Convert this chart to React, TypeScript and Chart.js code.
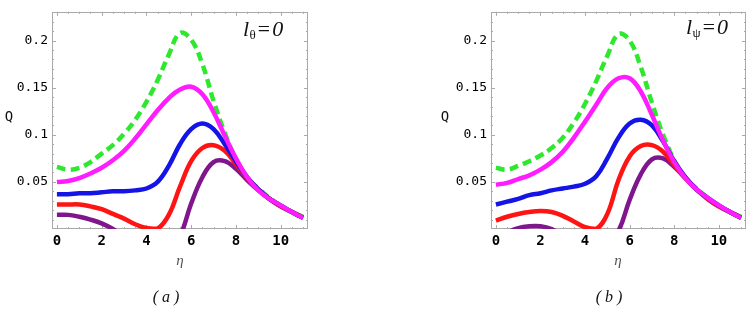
import React, { useEffect, useRef } from "react";
import { Chart, registerables } from "chart.js";

Chart.register(...registerables);

// ---------- data ----------
const ETA = [0, 0.5, 1, 1.5, 2, 2.5, 3, 3.5, 4, 4.5, 5, 5.5, 6, 6.5, 7, 7.5, 8, 8.5, 9, 9.5, 10, 10.5, 11];

const X_TICKS = [0, 2, 4, 6, 8, 10];
const Y_TICKS = [0.05, 0.1, 0.15, 0.2];

// panel (a)  l_theta = 0
const A_GREEN = [0.066, 0.063, 0.065, 0.071, 0.08, 0.089, 0.101, 0.116, 0.135, 0.158, 0.185, 0.208, 0.201, 0.175, 0.136, 0.102, 0.074, 0.055, 0.043, 0.033, 0.025, 0.018, 0.013];
const A_MAGENTA = [0.05, 0.051, 0.054, 0.059, 0.065, 0.073, 0.083, 0.096, 0.111, 0.126, 0.139, 0.148, 0.151, 0.143, 0.124, 0.099, 0.075, 0.055, 0.041, 0.032, 0.025, 0.018, 0.012];
const A_BLUE = [0.037, 0.037, 0.038, 0.038, 0.039, 0.04, 0.04, 0.041, 0.043, 0.05, 0.067, 0.09, 0.106, 0.112, 0.106, 0.09, 0.072, 0.055, 0.042, 0.032, 0.025, 0.018, 0.012];
const A_RED = [0.026, 0.026, 0.026, 0.024, 0.021, 0.016, 0.011, 0.005, 0.001, 0.0005, 0.015, 0.045, 0.072, 0.086, 0.089, 0.083, 0.069, 0.054, 0.042, 0.032, 0.024, 0.018, 0.012];
const A_PURPLE = [0.015, 0.015, 0.013, 0.01, 0.006, 0.0, -0.008, -0.016, -0.022, -0.026, -0.026, -0.008, 0.027, 0.055, 0.071, 0.072, 0.064, 0.052, 0.041, 0.032, 0.024, 0.018, 0.012];

// panel (b)  l_psi = 0
const B_GREEN = [0.065, 0.063, 0.067, 0.072, 0.078, 0.086, 0.097, 0.113, 0.133, 0.157, 0.184, 0.207, 0.2, 0.172, 0.134, 0.1, 0.073, 0.054, 0.043, 0.033, 0.025, 0.018, 0.013];
const B_MAGENTA = [0.047, 0.049, 0.053, 0.057, 0.063, 0.071, 0.082, 0.097, 0.114, 0.132, 0.15, 0.16, 0.16, 0.146, 0.121, 0.094, 0.071, 0.054, 0.042, 0.033, 0.025, 0.018, 0.012];
const B_BLUE = [0.026, 0.029, 0.032, 0.036, 0.038, 0.041, 0.043, 0.045, 0.048, 0.056, 0.075, 0.097, 0.112, 0.116, 0.11, 0.093, 0.072, 0.055, 0.042, 0.033, 0.025, 0.018, 0.012];
const B_RED = [0.009, 0.013, 0.016, 0.018, 0.019, 0.018, 0.014, 0.008, 0.002, 0.0, 0.016, 0.052, 0.077, 0.088, 0.089, 0.082, 0.068, 0.054, 0.042, 0.032, 0.024, 0.018, 0.012];
const B_PURPLE = [-0.012, -0.004, 0.001, 0.003, 0.003, 0.0, -0.007, -0.014, -0.018, -0.02, -0.016, -0.002, 0.031, 0.058, 0.074, 0.075, 0.066, 0.054, 0.042, 0.032, 0.024, 0.018, 0.012];

// ---------- styles ----------
const COLORS = {
  green: "#2ee82e",
  magenta: "#ff1cff",
  blue: "#1414e6",
  red: "#ff1414",
  purple: "#80168c",
};

type PanelSpec = {
  series: { green: number[]; magenta: number[]; blue: number[]; red: number[]; purple: number[] };
  left: number;
  width: number;
  yAxisWidth: number;
  padRight: number;
  qX: number;
  etaX: number;
  captionX: number;
  caption: string;
  noteX: number;
  noteY: number;
  noteSub: string;
};

const FRAME = "#a9a9a9";

function pts(vals: number[]) {
  return ETA.map((x, i) => ({ x, y: vals[i] }));
}

function makeOverlay(p: PanelSpec) {
  return {
    id: "overlay",
    beforeDatasetsDraw(chart: any) {
      const { ctx, chartArea } = chart;
      const { left, right, top, bottom } = chartArea;
      const xs = chart.scales.x;
      const ys = chart.scales.y;
      ctx.save();
      ctx.strokeStyle = FRAME;
      ctx.lineWidth = 1;
      ctx.strokeRect(Math.round(left) + 0.5, Math.round(top) + 0.5, Math.round(right - left) - 1, Math.round(bottom - top) - 1);
      ctx.beginPath();
      for (let k = 0; k <= 22; k++) {
        const v = k * 0.5;
        const len = k % 4 === 0 ? 4 : 2;
        const px = Math.round(xs.getPixelForValue(v)) + 0.5;
        ctx.moveTo(px, bottom);
        ctx.lineTo(px, bottom - len);
        ctx.moveTo(px, top);
        ctx.lineTo(px, top + len);
      }
      for (let k = 1; k <= 23; k++) {
        const v = k * 0.01;
        const len = k % 5 === 0 ? 4 : 2;
        const py = Math.round(ys.getPixelForValue(v)) + 0.5;
        if (py < top || py > bottom) continue;
        ctx.moveTo(left, py);
        ctx.lineTo(left + len, py);
        ctx.moveTo(right, py);
        ctx.lineTo(right - len, py);
      }
      ctx.stroke();
      ctx.restore();
    },
    afterDraw(chart: any) {
      const { ctx } = chart;
      ctx.save();
      ctx.fillStyle = "#111";
      ctx.textAlign = "center";
      ctx.textBaseline = "middle";
      ctx.font = "14px 'DejaVu Sans Mono'";
      ctx.fillText("Q", p.qX, 117);
      ctx.fillStyle = "#555";
      ctx.font = "italic 15px 'Liberation Serif'";
      ctx.fillText("η", p.etaX, 261);
      ctx.fillStyle = "#111";
      ctx.font = "italic 16px 'Liberation Serif'";
      ctx.fillText(p.caption, p.captionX, 298);
      ctx.textAlign = "left";
      ctx.textBaseline = "alphabetic";
      let x = p.noteX;
      ctx.font = "italic 22px 'Liberation Serif'";
      ctx.fillText("l", x, p.noteY);
      x += ctx.measureText("l").width + 0.5;
      ctx.font = "13px 'Liberation Serif'";
      ctx.fillText(p.noteSub, x, p.noteY + 3);
      x += ctx.measureText(p.noteSub).width + 0.5;
      ctx.font = "italic 22px 'Liberation Serif'";
      ctx.fillText("=", x, p.noteY);
      x += ctx.measureText("=").width + 1;
      ctx.fillText("0", x, p.noteY);
      ctx.restore();
    },
  };
}

function Panel({ spec }: { spec: PanelSpec }) {
  const ref = useRef<HTMLCanvasElement | null>(null);
  useEffect(() => {
    if (!ref.current) return;
    const s = spec.series;
    const ds = (data: number[], color: string, order: number, dashed = false) => ({
      data: pts(data),
      borderColor: color,
      backgroundColor: color,
      borderWidth: 4.5,
      borderDash: dashed ? [9, 5] : [],
      borderCapStyle: "butt" as const,
      borderJoinStyle: "round" as const,
      pointRadius: 0,
      tension: 0.4,
      fill: false,
      clip: 0,
      order,
    });
    const chart = new Chart(ref.current, {
      type: "line",
      data: {
        datasets: [
          ds(s.magenta, COLORS.magenta, 0),
          ds(s.blue, COLORS.blue, 1),
          ds(s.red, COLORS.red, 2),
          ds(s.purple, COLORS.purple, 3),
          ds(s.green, COLORS.green, 4, true),
        ],
      },
      options: {
        animation: false,
        responsive: false,
        devicePixelRatio: 1,
        layout: { padding: { left: 0, top: 3, right: spec.padRight, bottom: 0 } },
        plugins: { legend: { display: false }, tooltip: { enabled: false } },
        scales: {
          x: {
            type: "linear",
            min: -0.22,
            max: 11.22,
            grid: { display: false, drawTicks: false },
            border: { display: false },
            afterBuildTicks: (sc: any) => {
              sc.ticks = X_TICKS.map((v) => ({ value: v }));
            },
            afterFit: (sc: any) => {
              sc.height = 311 - 229;
            },
            ticks: {
              autoSkip: false,
              maxRotation: 0,
              padding: 4,
              color: "#000",
              font: { family: "'DejaVu Sans Mono'", size: 14, weight: "bold" },
              callback: (v: any) => String(v),
            },
          },
          y: {
            type: "linear",
            min: 0,
            max: 0.2306,
            grid: { display: false, drawTicks: false },
            border: { display: false },
            afterBuildTicks: (sc: any) => {
              sc.ticks = Y_TICKS.map((v) => ({ value: v }));
            },
            afterFit: (sc: any) => {
              sc.width = spec.yAxisWidth;
            },
            ticks: {
              autoSkip: false,
              padding: 4,
              color: "#000",
              font: { family: "'DejaVu Sans Mono'", size: 13 },
              callback: (v: any) => String(v),
            },
          },
        },
      },
      plugins: [makeOverlay(spec)],
    });
    return () => chart.destroy();
  }, [spec]);
  return (
    <canvas
      ref={ref}
      width={spec.width}
      height={311}
      style={{ position: "absolute", left: spec.left, top: 0, width: spec.width, height: 311 }}
    />
  );
}

const PANEL_A: PanelSpec = {
  series: { green: A_GREEN, magenta: A_MAGENTA, blue: A_BLUE, red: A_RED, purple: A_PURPLE },
  left: 0,
  width: 330,
  yAxisWidth: 52,
  padRight: 22,
  qX: 9,
  etaX: 180,
  captionX: 166,
  caption: "( a )",
  noteX: 243,
  noteY: 36,
  noteSub: "θ",
};

const PANEL_B: PanelSpec = {
  series: { green: B_GREEN, magenta: B_MAGENTA, blue: B_BLUE, red: B_RED, purple: B_PURPLE },
  left: 437,
  width: 310,
  yAxisWidth: 54,
  padRight: 1,
  qX: 8,
  etaX: 181,
  captionX: 172,
  caption: "( b )",
  noteX: 249,
  noteY: 34,
  noteSub: "ψ",
};

export default function App() {
  return (
    <div style={{ position: "absolute", left: 0, top: 0, width: 747, height: 311, background: "#fff", overflow: "hidden" }}>
      <Panel spec={PANEL_A} />
      <Panel spec={PANEL_B} />
    </div>
  );
}
